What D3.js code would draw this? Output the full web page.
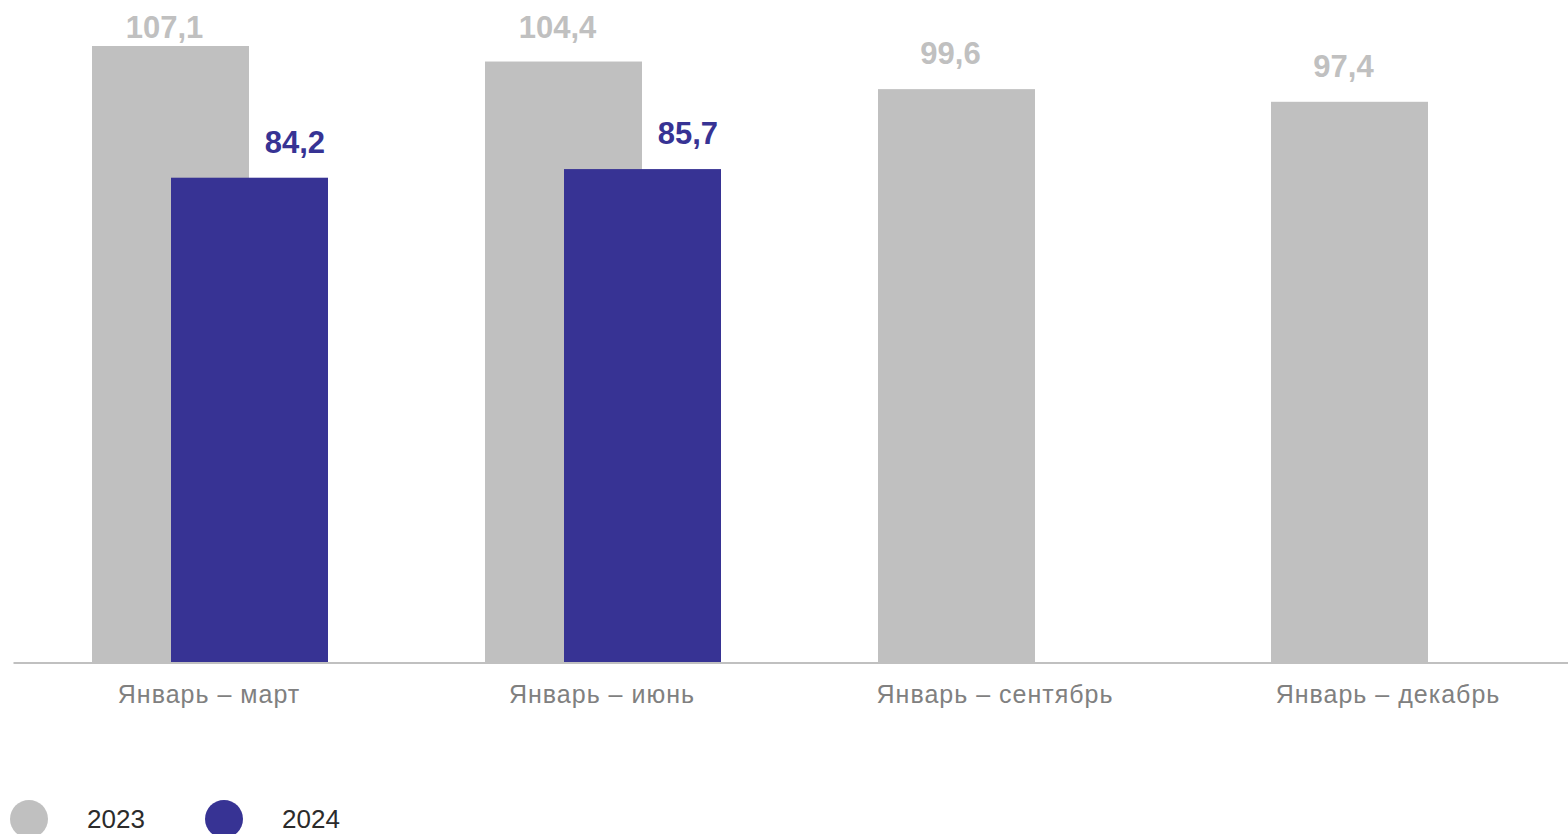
<!DOCTYPE html>
<html>
<head>
<meta charset="utf-8">
<script src="https://cdn.jsdelivr.net/npm/d3@7"></script>
<style>
  html, body { margin: 0; padding: 0; background: #ffffff; }
  svg { display: block; }
</style>
</head>
<body>
<svg id="chart" width="1568" height="834"></svg>
<script>
const categories = ["Январь – март", "Январь – июнь", "Январь – сентябрь", "Январь – декабрь"];
const series2023 = [107.1, 104.4, 99.6, 97.4];
const series2024 = [84.2, 85.7, null, null];
const seriesNames = ["2023", "2024"];
const seriesColors = ["#c0c0c0", "#373394"];

const fmt = v => d3.format(".1f")(v).replace(".", ",");

const svg = d3.select("#chart");
const W = 1568, H = 834;
const baseY = 662;

const x0 = d3.scaleBand().domain(categories).range([13.5, 1585.5]).paddingInner(0).paddingOuter(0);
const y = d3.scaleLinear().domain([0, 110]).range([baseY, baseY - 110 * (616 / 107.1)]);

const barW = 157;
const off = [78.5, 157.5];

const data = [series2023, series2024];

// bars
data.forEach((vals, si) => {
  svg.append("g").selectAll("rect")
    .data(categories.map((c, i) => ({ c, v: vals[i] })).filter(d => d.v != null))
    .join("rect")
    .attr("x", d => x0(d.c) + off[si])
    .attr("y", d => y(d.v))
    .attr("width", barW)
    .attr("height", d => baseY - y(d.v))
    .attr("fill", seriesColors[si]);
});

// axis line
svg.append("line")
  .attr("x1", 13.5).attr("x2", W)
  .attr("y1", baseY + 1).attr("y2", baseY + 1)
  .attr("stroke", "#c0c0c0").attr("stroke-width", 2);

// value labels
data.forEach((vals, si) => {
  svg.append("g").selectAll("text")
    .data(categories.map((c, i) => ({ c, v: vals[i] })).filter(d => d.v != null))
    .join("text")
    .attr("x", d => si === 0 ? x0(d.c) + off[si] + barW / 2 - 6 : x0(d.c) + off[si] + barW - 3)
    .attr("y", d => Math.max(y(d.v) - 25, 38))
    .attr("text-anchor", si === 0 ? "middle" : "end")
    .attr("font-family", "Liberation Sans, Arial, sans-serif")
    .attr("font-weight", "bold")
    .attr("font-size", 31)
    .attr("fill", seriesColors[si])
    .text(d => fmt(d.v));
});

// category labels
svg.append("g").selectAll("text")
  .data(categories)
  .join("text")
  .attr("x", d => x0(d) + x0.bandwidth() / 2 - 1)
  .attr("y", 703)
  .attr("text-anchor", "middle")
  .attr("font-family", "Liberation Sans, Arial, sans-serif")
  .attr("font-size", 25)
  .attr("letter-spacing", 1)
  .attr("fill", "#808080")
  .text(d => d);

// legend
const legendX = [29, 224];
seriesNames.forEach((n, i) => {
  const g = svg.append("g").attr("transform", `translate(${legendX[i]},819)`);
  g.append("circle").attr("r", 19).attr("fill", seriesColors[i]);
  g.append("text")
    .attr("x", 58).attr("y", 9)
    .attr("font-family", "Liberation Sans, Arial, sans-serif")
    .attr("font-size", 26)
    .attr("fill", "#2b2b2b")
    .text(n);
});
</script>
</body>
</html>
